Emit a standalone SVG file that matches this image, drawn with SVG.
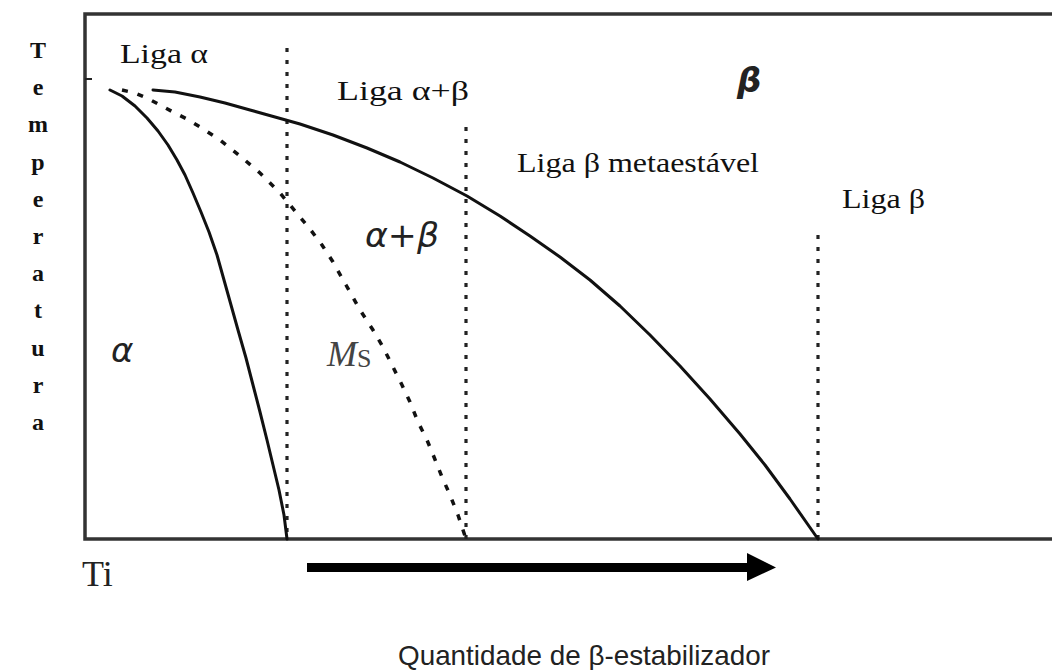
<svg xmlns="http://www.w3.org/2000/svg" width="1052" height="670" viewBox="0 0 1052 670">
<style>
.frame{fill:none;stroke:#333;stroke-width:3.5}
.curve{fill:none;stroke:#111;stroke-width:3;stroke-linejoin:round;stroke-linecap:round}
.ms{fill:none;stroke:#111;stroke-width:3.5;stroke-dasharray:6 10}
.dot{fill:none;stroke:#222;stroke-width:3.2;stroke-dasharray:4 8}
.lbl{font-family:"Liberation Serif",serif;font-size:27px;fill:#111}
.ax{font-family:"Liberation Serif",serif;font-size:24px;font-weight:bold;fill:#111;text-anchor:middle}
.ph{font-family:"DejaVu Sans",sans-serif;font-style:italic;font-size:34px;fill:#222}
</style>
<rect width="1052" height="670" fill="#fff"/>
<g id="frame">
<path class="frame" d="M1052 14 H85 V539 H1052"/>
<line x1="85" y1="79" x2="92" y2="79" stroke="#222" stroke-width="2"/>
</g>
<g id="boundaries">
<polyline class="dot" points="287,48 287,539"/>
<polyline class="dot" points="466,127 466,539"/>
<polyline class="dot" points="818,235 818,539"/>
<polyline class="curve" points="110,90 122,96 135,106 147,118 158,131 168,145 177,160 185,175 193,193 201,212 209,232 217,255 224,280 231,305 238,330 246,358 253,385 260,412 267,440 273,465 279,490 284,515 287,539"/>
<polyline class="curve" points="153,90 175,92 200,97 225,103 250,110 275,117 300,124 333,135 367,148 400,162 433,178 467,196 500,216 530,236 560,257 590,280 620,306 650,335 680,366 710,399 740,434 765,465 790,499 818,539"/>
<polyline class="ms" points="122,90 135,93 147,98 160,105 173,112 187,119 200,127 220,140 240,156 260,173 280,193 295,211 310,229 322,245 333,262 346,285 360,310 373,330 383,347 392,365 402,385 410,402 418,422 427,440 434,457 442,477 450,495 458,515 466,539"/>
</g>
<g id="arrow">
<rect x="307" y="563" width="442" height="9" fill="#000"/>
<polygon points="747,553 776,567.5 747,581" fill="#000"/>
</g>
<g id="labels">
<text class="lbl" x="120" y="63" textLength="88" lengthAdjust="spacingAndGlyphs">Liga α</text>
<text class="lbl" x="337" y="100" textLength="132" lengthAdjust="spacingAndGlyphs">Liga α+β</text>
<text class="lbl" x="517" y="172" textLength="242" lengthAdjust="spacingAndGlyphs">Liga β metaestável</text>
<text class="lbl" x="842" y="208" textLength="83" lengthAdjust="spacingAndGlyphs">Liga β</text>
<text class="ph" x="737" y="92" font-weight="bold">β</text>
<text class="ph" x="365" y="247" textLength="74" lengthAdjust="spacingAndGlyphs">α+β</text>
<text class="ph" x="111" y="362" font-size="36">α</text>
<text x="327" y="366" font-family="Liberation Serif, serif" font-style="italic" font-size="36" fill="#444">M<tspan font-style="normal" font-size="26" dy="1">S</tspan></text>
<text x="82" y="586" font-family="Liberation Serif, serif" font-size="36" fill="#222">Ti</text>
<text x="398" y="665" font-family="Liberation Sans, sans-serif" font-size="28" fill="#222" textLength="372" lengthAdjust="spacingAndGlyphs">Quantidade de β-estabilizador</text>
</g>
<g id="yaxis">
<text class="ax" x="38" y="58" font-size="21">T</text>
<text class="ax" x="38" y="95">e</text>
<text class="ax" x="38" y="132">m</text>
<text class="ax" x="38" y="170">p</text>
<text class="ax" x="38" y="207">e</text>
<text class="ax" x="38" y="244">r</text>
<text class="ax" x="38" y="281">a</text>
<text class="ax" x="38" y="318">t</text>
<text class="ax" x="38" y="356">u</text>
<text class="ax" x="38" y="393">r</text>
<text class="ax" x="38" y="430">a</text>
</g>
</svg>
